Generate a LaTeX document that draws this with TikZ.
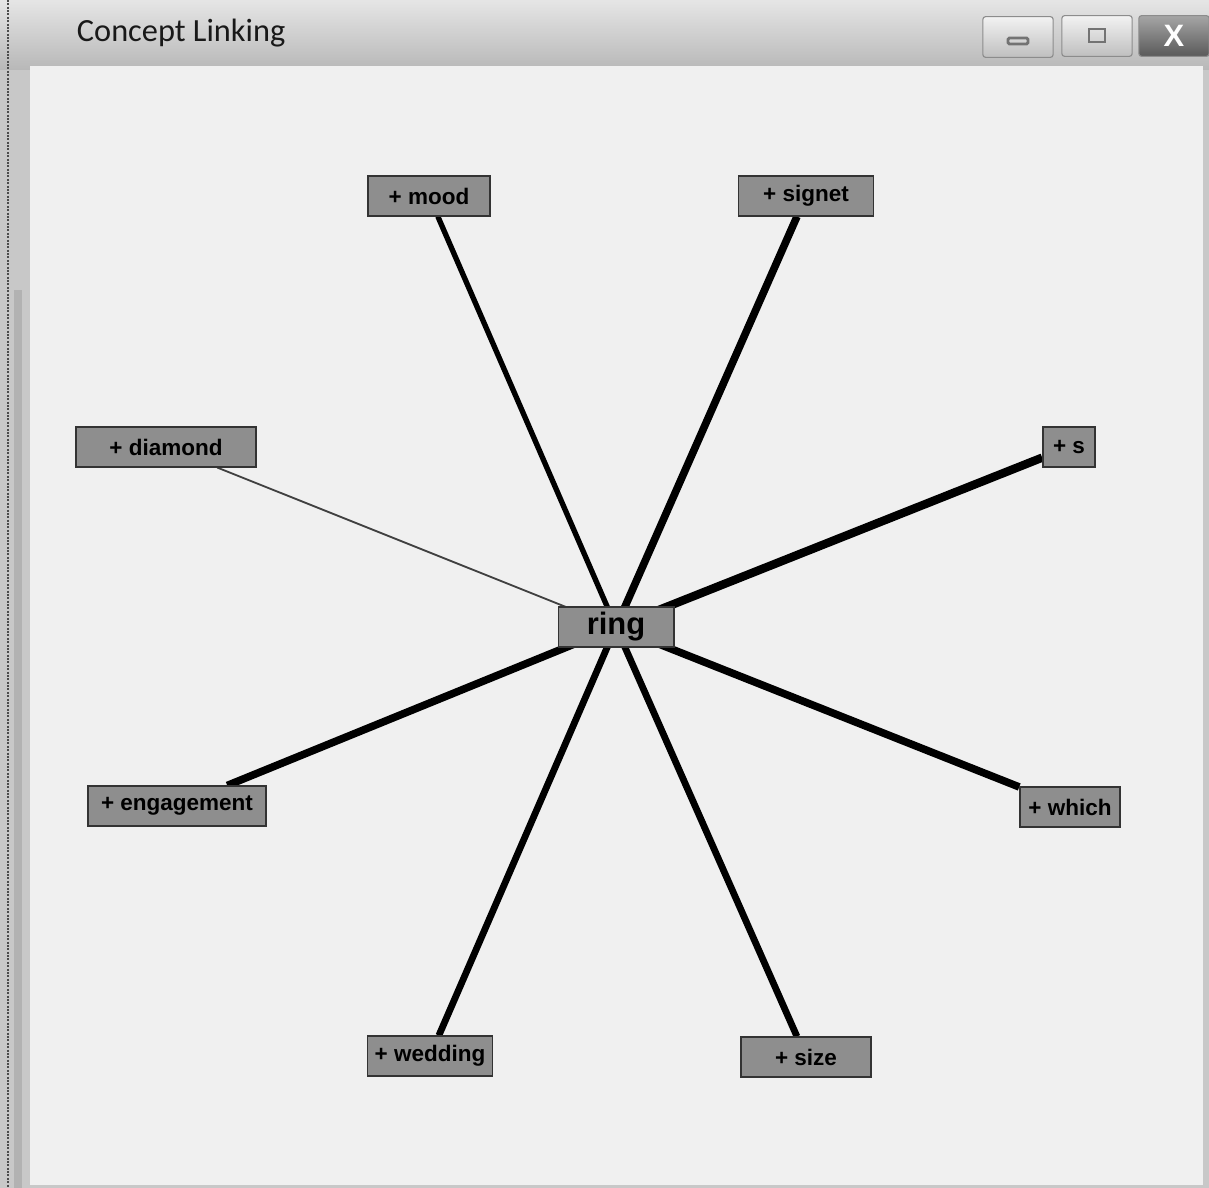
\documentclass[tikz,border=0pt]{standalone}
\usepackage{fontspec}
\setmainfont{Liberation Sans}
\newfontfamily\titlefont{Carlito}
\usepackage{tikz}
\usetikzlibrary{backgrounds, calc}
\definecolor{winbg}{HTML}{F0F0F0}
\definecolor{boxgray}{HTML}{8E8E8E}
\definecolor{frame}{HTML}{C8C8C8}
\tikzset{
  concept/.style={rectangle, draw=black!80, fill=boxgray, line width=1.2pt,
                  inner sep=0pt, minimum height=28pt,
                  font=\fontsize{16}{18}\selectfont\bfseries},
  hub/.style={concept, font=\fontsize{22}{24}\selectfont\bfseries},
  link/.style={draw=black, line width=#1},
  link/.default=4pt,
  winbtn/.style={rectangle, rounded corners=2pt, draw=black!45,
                 top color=white!90!gray, bottom color=black!25,
                 line width=0.8pt},
}

\begin{document}
\begin{tikzpicture}[x=0.025cm, y=-0.025cm]
    \useasboundingbox (0,0) rectangle (1209,1188);

    %% window frame
    \begin{scope}[on background layer]
      \fill[top color=black!10, bottom color=black!28] (0,0) rectangle (1209,70);
      \fill[frame] (0,70) rectangle (1209,1188);
      \fill[winbg] (30,66) rectangle (1203,1185);
      \fill[black!30] (14,290) rectangle (22,1188);
      \draw[black!70, line width=1.4pt, densely dotted] (8,0) -- (8,1188);
    \end{scope}
    \node[anchor=west, font=\titlefont\fontsize{23}{26}\selectfont, text=black!90]
          (title) at (72,33) {Concept Linking};

    %% window buttons
    \node[winbtn, minimum width=50pt, minimum height=29pt] (minbtn) at (1018,37) {};
    \node[winbtn, minimum width=50pt, minimum height=29pt] (maxbtn) at (1097,36) {};
    \node[winbtn, minimum width=50pt, minimum height=29pt,
          top color=black!35, bottom color=black!65] (closebtn) at (1174,36) {};
    \draw[black!55, line width=2pt, rounded corners=1pt]
          ($(minbtn)+(-10,1)$) rectangle ($(minbtn)+(10,7)$);
    \draw[black!55, line width=2pt] ($(maxbtn)+(-8,-7)$) rectangle ($(maxbtn)+(8,6)$);
    \node[font=\fontsize{22}{24}\selectfont\bfseries, text=white] at (closebtn) {X};

    %% concepts
    \node[hub, minimum width=82pt] (ring) at (616,627) {ring};
    \node[concept, minimum width=87pt] (mood) at (429,196) {+ mood};
    \node[concept, minimum width=96pt] (signet) at (806,196) {+ signet};
    \node[concept, minimum width=128pt] (diamond) at (166,447) {+ diamond};
    \node[concept, minimum width=37pt] (s) at (1069,447) {+ s};
    \node[concept, minimum width=127pt] (engagement) at (177,806) {+ engagement};
    \node[concept, minimum width=71pt] (which) at (1070,807) {+ which};
    \node[concept, minimum width=89pt] (wedding) at (430,1056) {+ wedding};
    \node[concept, minimum width=92pt] (size) at (806,1057) {+ size};

    %% links
    \begin{scope}[on background layer]
      \draw[link=3.8pt] (mood) -- (ring.center);
      \draw[link=5.4pt] (signet) -- (ring.center);
      \draw[link=1.3pt, black!75] (diamond) -- (ring.center);
      \draw[link=6pt] (s) -- (ring.center);
      \draw[link=5.4pt] (engagement) -- (ring.center);
      \draw[link=5.4pt] (which) -- (ring.center);
      \draw[link=4.8pt] (wedding) -- (ring.center);
      \draw[link=4.8pt] (size) -- (ring.center);
    \end{scope}
\end{tikzpicture}
\end{document}
